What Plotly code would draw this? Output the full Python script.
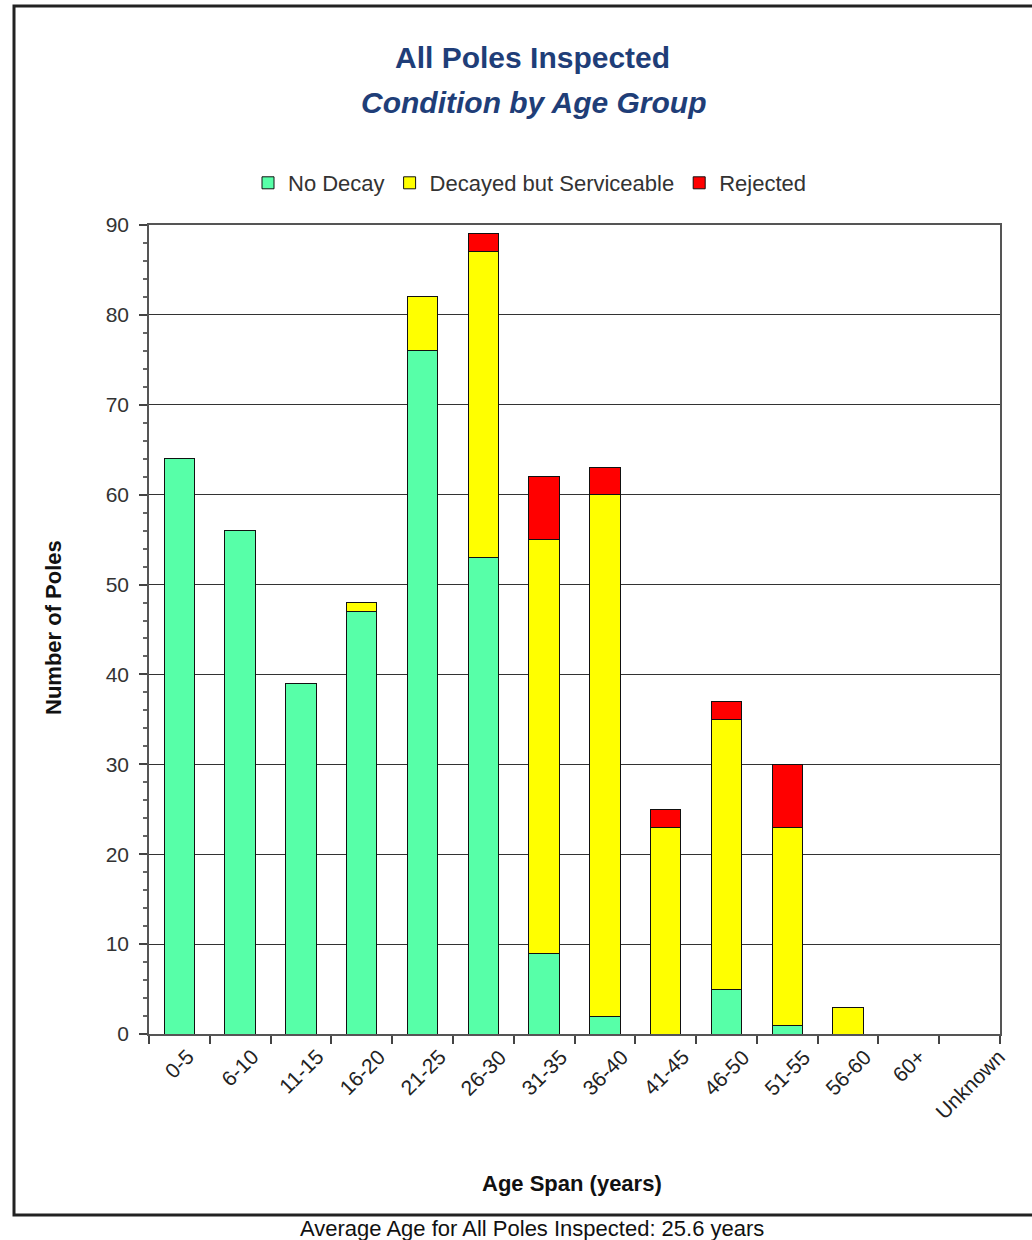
import plotly.graph_objects as go

categories = ["0-5", "6-10", "11-15", "16-20", "21-25", "26-30", "31-35",
              "36-40", "41-45", "46-50", "51-55", "56-60", "60+", "Unknown"]
no_decay = [64, 56, 39, 47, 76, 53, 9, 2, 0, 5, 1, 0, 0, 0]
decayed_serviceable = [0, 0, 0, 1, 6, 34, 46, 58, 23, 30, 22, 3, 0, 0]
rejected = [0, 0, 0, 0, 0, 2, 7, 3, 2, 2, 7, 0, 0, 0]

W, H = 1032, 1240
L, R, T, B = 149, 1000, 225, 1034  # plot area in px

def px(x):
    return (x - L) / (R - L)

def py(y):
    return (B - y) / (B - T)

FONT = "Arial, Liberation Sans, sans-serif"
TXT = "#333333"

fig = go.Figure()
fig.add_trace(go.Bar(name="No Decay", x=categories, y=no_decay,
                     marker=dict(color="#57FFA8", line=dict(color="#111111", width=1))))
fig.add_trace(go.Bar(name="Decayed but Serviceable", x=categories, y=decayed_serviceable,
                     marker=dict(color="#FFFF00", line=dict(color="#111111", width=1))))
fig.add_trace(go.Bar(name="Rejected", x=categories, y=rejected,
                     marker=dict(color="#FF0000", line=dict(color="#111111", width=1))))

fig.update_layout(
    width=W, height=H,
    barmode="stack", bargap=0.5,
    paper_bgcolor="white", plot_bgcolor="white",
    margin=dict(l=L, r=W - R, t=T, b=H - B, pad=0),
    font=dict(family=FONT, color=TXT, size=18),
    showlegend=True,
    legend=dict(orientation="h", x=px(530), y=py(183), xanchor="center", yanchor="middle",
                font=dict(size=22, color=TXT), traceorder="normal",
                bgcolor="rgba(0,0,0,0)"),
)

fig.update_yaxes(range=[0, 90], dtick=10, showgrid=True, gridcolor="#333333", gridwidth=1,
                 ticks="outside", ticklen=8, tickcolor="#444444", tickwidth=1.5,
                 minor=dict(dtick=2, ticks="outside", ticklen=4, tickcolor="#666666", showgrid=False),
                 showline=True, linecolor="#555555", linewidth=1.5, mirror=True,
                 ticklabelstandoff=6,
                 tickfont=dict(size=21, color=TXT), zeroline=False, fixedrange=True)
fig.update_xaxes(type="category", categoryorder="array", categoryarray=categories,
                 range=[-0.5, len(categories) - 0.5], autorange=False,
                 tickson="boundaries", ticks="outside", ticklen=8,
                 tickcolor="#444444", tickwidth=1.5, showticklabels=False,
                 showline=True, linecolor="#555555", linewidth=1.5, mirror=True,
                 showgrid=False)

annotations = [
    dict(text="<b>All Poles Inspected</b>", x=px(532), y=py(58),
         font=dict(size=30, color="#1F3E78", family=FONT)),
    dict(text="<b><i>Condition by Age Group</i></b>", x=px(534), y=py(102),
         font=dict(size=30, color="#1F3E78", family=FONT)),
    dict(text="<b>Number of Poles</b>", x=px(53), y=py(628), textangle=-90,
         font=dict(size=22, color="#111111", family=FONT)),
    dict(text="<b>Age Span (years)</b>", x=px(572), y=py(1183),
         font=dict(size=22, color="#111111", family=FONT)),
    dict(text="Average Age for All Poles Inspected: 25.6 years", x=px(532), y=py(1228),
         font=dict(size=22, color="#111111", family=FONT)),
]
for a in annotations:
    a.update(xref="paper", yref="paper", showarrow=False, xanchor="center", yanchor="middle")

# rotated category labels, centred under each category (as in the original)
for c in categories:
    annotations.append(dict(text=c, x=c, xref="x", y=py(1042), yref="paper",
                            xanchor="center", yanchor="top", textangle=-45, showarrow=False,
                            font=dict(size=21, color="#222222", family=FONT)))
fig.update_layout(annotations=annotations)

fig.add_shape(type="rect", xref="paper", yref="paper",
              x0=px(14), x1=px(1040), y0=py(1215), y1=py(6),
              line=dict(color="#222222", width=3), fillcolor="rgba(0,0,0,0)", layer="below")

fig.write_html("out.html")
